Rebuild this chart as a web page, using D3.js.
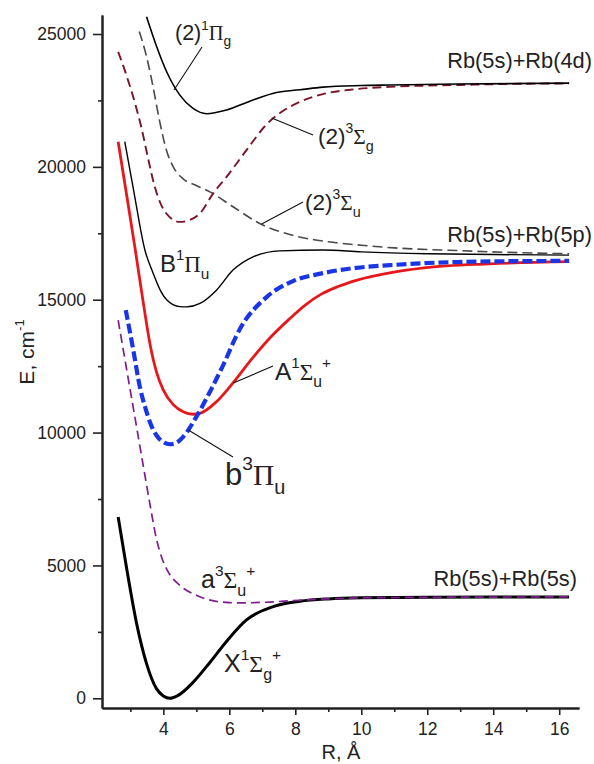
<!DOCTYPE html>
<html>
<head>
<meta charset="utf-8">
<script src="https://cdn.jsdelivr.net/npm/d3@7"></script>
<style>
  html, body { margin: 0; padding: 0; background: #fff; }
  svg { display: block; font-family: "Liberation Sans", Arial, sans-serif; }
</style>
</head>
<body>
<svg id="chart" width="594" height="764"></svg>
<script>
// Rb2 potential energy curves: internuclear distance R (Å) vs energy E (cm^-1)

// X¹Σg⁺ ground state
const R_X = [2.63, 2.88, 3.19, 3.49, 3.79, 4.0, 4.2, 4.45, 4.9, 5.41, 5.92, 6.52, 7.33, 8.14, 9.0, 10.0, 12.0, 14.0, 16.3];
const E_X = [6826, 4940, 2810, 1306, 365, 90, 0, 110, 600, 1350, 2150, 2950, 3450, 3650, 3740, 3780, 3800, 3810, 3815];

// a³Σu⁺
const R_a = [2.63, 2.88, 3.14, 3.39, 3.59, 3.79, 3.95, 4.15, 4.5, 5.0, 5.6, 6.3, 7.1, 8.1, 9.0, 10.0, 12.0, 14.0, 16.3];
const E_a = [14230, 12430, 10560, 8760, 7330, 6000, 5300, 4750, 4250, 3880, 3650, 3590, 3615, 3690, 3740, 3780, 3800, 3810, 3815];

// b³Πu
const R_b = [2.86, 3.09, 3.29, 3.45, 3.6, 3.8, 4.0, 4.2, 4.4, 4.6, 5.0, 5.41, 5.81, 6.32, 7.13, 7.93, 8.84, 9.85, 10.86, 12.9, 14.5, 16.3];
const E_b = [14610, 13100, 11700, 10950, 10370, 9880, 9640, 9560, 9620, 9840, 10590, 11530, 12530, 13900, 15100, 15700, 16000, 16200, 16300, 16420, 16450, 16460];

// A¹Σu⁺
const R_A = [2.63, 2.88, 3.14, 3.39, 3.6, 3.8, 4.0, 4.3, 4.6, 4.9, 5.1, 5.6, 6.1, 6.7, 7.3, 7.8, 8.3, 8.8, 9.3, 9.85, 10.9, 11.9, 13.9, 16.3];
const E_A = [20946, 19000, 16950, 14900, 13300, 12250, 11600, 11050, 10780, 10690, 10720, 11150, 11850, 12800, 13650, 14250, 14800, 15220, 15500, 15730, 16020, 16200, 16350, 16430];

// B¹Πu
const R_B = [2.83, 3.08, 3.44, 3.69, 3.89, 4.1, 4.5, 4.7, 5.11, 5.61, 6.11, 6.72, 7.53, 8.84, 10.0, 12.0, 14.0, 16.3];
const E_B = [20946, 19250, 16870, 16000, 15400, 15000, 14740, 14730, 14860, 15360, 16114, 16615, 16840, 16870, 16800, 16730, 16700, 16680];

// (2)³Σu
const R_2Su = [3.27, 3.49, 3.69, 3.89, 4.1, 4.3, 4.6, 5.0, 5.41, 6.11, 6.92, 8.0, 9.0, 10.0, 11.0, 12.9, 14.5, 16.3];
const E_2Su = [25090, 24150, 23000, 21700, 20600, 20000, 19550, 19300, 19060, 18500, 17870, 17400, 17180, 17050, 16950, 16850, 16780, 16730];

// (2)³Σg
const R_2Sg = [2.63, 2.88, 3.14, 3.34, 3.54, 3.74, 3.94, 4.2, 4.5, 4.8, 5.11, 5.51, 5.92, 6.52, 7.13, 7.6, 8.14, 8.84, 9.8, 10.86, 12.9, 14.5, 16.3];
const E_2Sg = [24330, 23450, 22400, 21450, 20300, 19250, 18550, 18100, 17930, 18000, 18250, 19000, 19630, 20630, 21600, 22080, 22450, 22740, 22920, 23010, 23080, 23120, 23140];

// (2)¹Πg
const R_2Pg = [3.49, 3.79, 4.1, 4.5, 4.9, 5.31, 5.92, 6.62, 7.43, 8.14, 8.84, 10.0, 10.86, 12.9, 16.3];
const E_2Pg = [25650, 24550, 23580, 22700, 22200, 22000, 22140, 22470, 22800, 22900, 23000, 23060, 23080, 23120, 23150];

// Axis ticks
const xMajorTicks = [4, 6, 8, 10, 12, 14, 16];
const xMinorTicks = [3, 5, 7, 9, 11, 13, 15];
const yMajorTicks = [0, 5000, 10000, 15000, 20000, 25000];
const yMinorTicks = [2500, 7500, 12500, 17500, 22500];

const svg = d3.select("#chart");

const x = d3.scaleLinear().domain([2.14, 16.6]).range([102, 579]);
const y = d3.scaleLinear().domain([-365, 25715]).range([708, 15]);

const line = d3.line()
  .x(d => x(d[0]))
  .y(d => y(d[1]))
  .curve(d3.curveMonotoneX);

const curves = [
  { R: R_X,   E: E_X,   color: "#000000", width: 3.0, dash: null },
  { R: R_a,   E: E_a,   color: "#7d1f8e", width: 1.7, dash: "9,5" },
  { R: R_A,   E: E_A,   color: "#e5191d", width: 2.8, dash: null },
  { R: R_b,   E: E_b,   color: "#1a35e6", width: 4.2, dash: "10,4" },
  { R: R_B,   E: E_B,   color: "#000000", width: 1.4, dash: null },
  { R: R_2Su, E: E_2Su, color: "#4a4a4a", width: 1.6, dash: "10,5" },
  { R: R_2Sg, E: E_2Sg, color: "#7a1428", width: 1.9, dash: "9,5" },
  { R: R_2Pg, E: E_2Pg, color: "#000000", width: 1.6, dash: null }
];

const plot = svg.append("g");
curves.forEach(c => {
  plot.append("path")
    .datum(c.R.map((r, i) => [r, c.E[i]]))
    .attr("d", line)
    .attr("fill", "none")
    .attr("stroke", c.color)
    .attr("stroke-width", c.width)
    .attr("stroke-dasharray", c.dash)
    .attr("stroke-linejoin", "round");
});

// Axes
const axisColor = "#222";
svg.append("g").attr("transform", "translate(0,708)")
  .call(d3.axisBottom(x).tickValues(xMajorTicks).tickSize(7).tickPadding(8).tickSizeOuter(0).tickFormat(d3.format("d")));
svg.append("g").attr("transform", "translate(0,708)")
  .call(d3.axisBottom(x).tickValues(xMinorTicks).tickSize(4).tickSizeOuter(0).tickFormat(""));
svg.append("g").attr("transform", "translate(102,0)")
  .call(d3.axisLeft(y).tickValues(yMajorTicks).tickSize(9).tickPadding(7).tickSizeOuter(0).tickFormat(d3.format("d")));
svg.append("g").attr("transform", "translate(102,0)")
  .call(d3.axisLeft(y).tickValues(yMinorTicks).tickSize(4).tickSizeOuter(0).tickFormat(""));

svg.selectAll(".domain").attr("stroke", axisColor).attr("stroke-width", 2);
svg.selectAll(".tick line").attr("stroke", axisColor).attr("stroke-width", 1.6);
svg.selectAll(".tick text")
  .attr("font-family", "Liberation Sans, Arial, sans-serif")
  .attr("font-size", 17.5)
  .attr("fill", "#222");

// Rich text with superscripts, subscripts and Greek letters
function richLabel(x0, y0, size, parts, opts = {}) {
  const t = svg.append("text")
    .attr("x", x0).attr("y", y0)
    .attr("font-size", size)
    .attr("fill", "#222")
    .attr("text-anchor", opts.anchor || "start");
  if (opts.rotate) t.attr("transform", `rotate(${opts.rotate},${x0},${y0})`);
  let cur = 0;
  parts.forEach(([s, kind]) => {
    let off = 0, fs = size, fam = null;
    if (kind === "sup") { off = -0.48 * size; fs = 0.62 * size; }
    if (kind === "sub") { off = 0.3 * size; fs = 0.64 * size; }
    if (kind === "gr") { fs = 0.95 * size; fam = "Liberation Serif, Times New Roman, serif"; }
    const ts = t.append("tspan").attr("dy", off - cur).attr("font-size", fs).text(s);
    if (fam) ts.attr("font-family", fam);
    cur = off;
  });
  return t;
}

// State labels
richLabel(175, 40, 21.5, [["(2)", "n"], ["1", "sup"], ["Π", "gr"], ["g", "sub"]]);
richLabel(318, 144, 22.5, [["(2)", "n"], ["3", "sup"], ["Σ", "gr"], ["g", "sub"]]);
richLabel(305, 210, 22.5, [["(2)", "n"], ["3", "sup"], ["Σ", "gr"], ["u", "sub"]]);
richLabel(160, 272, 24, [["B", "n"], ["1", "sup"], ["Π", "gr"], ["u", "sub"]]);
richLabel(275, 380, 24.5, [["A", "n"], ["1", "sup"], ["Σ", "gr"], ["u", "sub"], ["+", "sup"]]);
richLabel(225, 485, 31, [["b", "n"], ["3", "sup"], ["Π", "gr"], ["u", "sub"]]);
richLabel(201, 588, 25, [["a", "n"], ["3", "sup"], ["Σ", "gr"], ["u", "sub"], ["+", "sup"]]);
richLabel(224, 672, 25, [["X", "n"], ["1", "sup"], ["Σ", "gr"], ["g", "sub"], ["+", "sup"]]);

// Asymptote labels
richLabel(592, 68, 21.8, [["Rb(5s)+Rb(4d)", "n"]], { anchor: "end" });
richLabel(592, 242, 21.8, [["Rb(5s)+Rb(5p)", "n"]], { anchor: "end" });
richLabel(577, 586, 21.8, [["Rb(5s)+Rb(5s)", "n"]], { anchor: "end" });

// Leader lines from labels to curves
const leaders = [
  [[174, 90], [202, 47]],
  [[271.7, 118], [313, 135]],
  [[261.7, 224], [303, 202]],
  [[233.3, 383], [273, 366]],
  [[188.3, 430], [233, 457]]
];
leaders.forEach(([p, q]) => {
  svg.append("line")
    .attr("x1", p[0]).attr("y1", p[1]).attr("x2", q[0]).attr("y2", q[1])
    .attr("stroke", "#111").attr("stroke-width", 1.1);
});

// Axis titles
richLabel(34, 352, 21, [["E, cm", "n"], ["-1", "sup"]], { anchor: "middle", rotate: -90 });
richLabel(341, 759, 20, [["R, Å", "n"]], { anchor: "middle" });
</script>
</body>
</html>
